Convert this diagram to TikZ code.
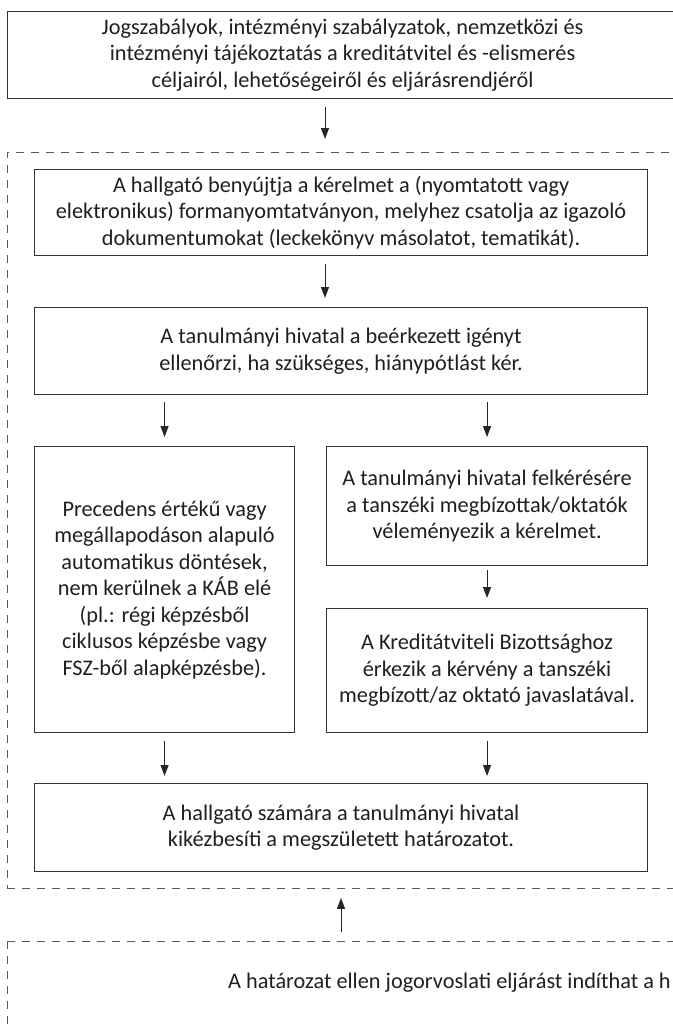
\documentclass[tikz,border=0pt]{standalone}
\usepackage{fontspec}
\setmainfont{Carlito}
\usetikzlibrary{arrows.meta}
\begin{document}
\begin{tikzpicture}[x=1pt,y=-1pt,
  box/.style={draw=black!80, line width=1.1pt, align=center, inner sep=0pt, anchor=north west,
    font=\fontsize{22.3}{26.5}\selectfont, text=black!88},
  dbox/.style={draw=black!65, line width=0.9pt, dash pattern=on 8pt off 7pt},
  arr/.style={draw=black!85, line width=1pt, -{Triangle[length=11pt,width=8pt]}},
  plain/.style={inner sep=0pt, font=\fontsize{22.3}{26.5}\selectfont, text=black!88}
]
\useasboundingbox (0,0) rectangle (672,1025);

\node[box, minimum width=670, minimum height=87] (top) at (7,11)
  {Jogszabályok, intézményi szabályzatok, nemzetközi és\\ intézményi tájékoztatás a kreditátvitel és -elismerés\\ céljairól, lehetőségeiről és eljárásrendjéről};

\node[dbox, anchor=north west, inner sep=0pt, minimum width=683, minimum height=736] (frame) at (7,152) {};

\node[box, minimum width=613, minimum height=86] (submit) at (34,169)
  {A hallgató benyújtja a kérelmet a (nyomtatott vagy\\ elektronikus) formanyomtatványon, melyhez csatolja az igazoló\\ dokumentumokat (leckekönyv másolatot, tematikát).};

\node[box, minimum width=613, minimum height=87] (check) at (34,307)
  {A tanulmányi hivatal a beérkezett igényt\\ ellenőrzi, ha szükséges, hiánypótlást kér.};

\node[box, minimum width=260, minimum height=286] (auto) at (34,446)
  {Precedens értékű vagy\\ megállapodáson alapuló\\ automatikus döntések,\\ nem kerülnek a KÁB elé\\ (pl.: régi képzésből\\ ciklusos képzésbe vagy\\ FSZ-ből alapképzésbe).};

\node[box, minimum width=321, minimum height=119] (opinion) at (326,446)
  {A tanulmányi hivatal felkérésére\\ a tanszéki megbízottak/oktatók\\ véleményezik a kérelmet.};

\node[box, minimum width=321, minimum height=124] (committee) at (326,608)
  {A Kreditátviteli Bizottsághoz\\ érkezik a kérvény a tanszéki\\ megbízott/az oktató javaslatával.};

\node[box, minimum width=613, minimum height=88] (deliver) at (34,783)
  {A hallgató számára a tanulmányi hivatal\\ kikézbesíti a megszületett határozatot.};

\coordinate (lf) at (7,941);
\coordinate (lfr) at (690,941);
\coordinate (lfb) at (7,1040);
\draw[dbox] (lf) -- (lfr);
\draw[dbox] (lf) -- (lfb);
\node[plain, anchor=east] (appeal) at (671,983) {A határozat ellen jogorvoslati eljárást indíthat a h};

\coordinate (a1) at (325,0);
\coordinate (a2) at (341,0);

\draw[arr] ([yshift=-8pt]top.south -| a1) -- ([yshift=13pt]frame.north -| a1);
\draw[arr] ([yshift=-8pt]submit.south -| a1) -- ([yshift=9pt]check.north -| a1);
\draw[arr] ([yshift=-7pt]check.south -| auto.north) -- ([yshift=9pt]auto.north);
\draw[arr] ([yshift=-7pt]check.south -| opinion.north) -- ([yshift=9pt]opinion.north);
\draw[arr] ([yshift=-4pt]opinion.south) -- ([yshift=10pt]committee.north);
\draw[arr] ([yshift=-8pt]auto.south) -- ([yshift=7pt]deliver.north -| auto.south);
\draw[arr] ([yshift=-8pt]committee.south) -- ([yshift=7pt]deliver.north -| committee.south);
\draw[arr] ([yshift=9pt]lf -| a2) -- ([yshift=-9pt]frame.south -| a2);
\end{tikzpicture}
\end{document}
